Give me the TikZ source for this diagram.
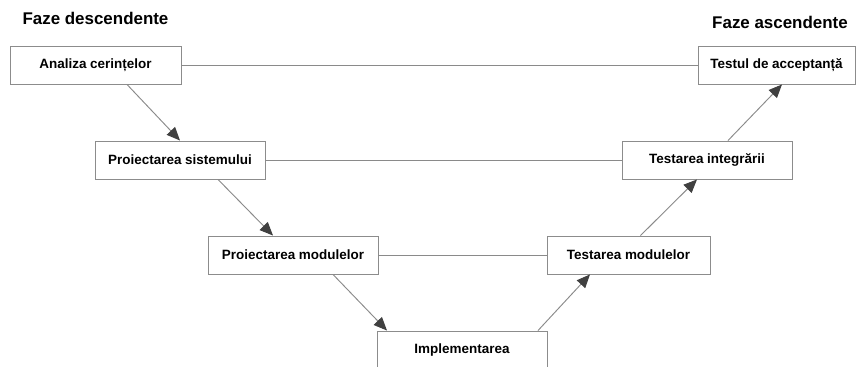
\documentclass[tikz,border=0pt]{standalone}
\usepackage{fontspec}
\setmainfont{Liberation Sans}
\usetikzlibrary{arrows.meta,calc}
\definecolor{linegray}{HTML}{8A8A8A}
\definecolor{boxgray}{HTML}{8C8C8C}
\definecolor{tipgray}{HTML}{404040}
\tikzset{
  phase/.style={draw=boxgray, line width=0.7pt, fill=white, minimum height=28.5pt,
    inner sep=0pt, font=\fontsize{10.1}{12}\selectfont\bfseries},
  title/.style={anchor=base, font=\fontsize{12.7}{15}\selectfont\bfseries},
  flow/.style={draw=linegray, line width=0.7pt,
    -{Triangle[length=10pt,width=8.5pt,fill=tipgray,color=tipgray]}},
  link/.style={draw=linegray, line width=0.6pt}
}
\begin{document}
\begin{tikzpicture}[x=0.75pt,y=-0.75pt]
\clip (0,0) rectangle (858,367);
\fill[white] (0,0) rectangle (858,367);

% titles
\node[title] (tdown) at (95.5,25) {Faze descendente};
\node[title] (tup) at (780,29) {Faze ascendente};

% descending branch
\node[phase, minimum width=128.25pt] (req) at (95.5,65) {Analiza cerințelor};
\node[phase, minimum width=127.5pt] (sys) at (180,160) {Proiectarea sistemului};
\node[phase, minimum width=127.5pt] (mod) at (293,255) {Proiectarea modulelor};
\node[phase, minimum width=127.5pt] (impl) at (462,350) {Implementarea};

% ascending branch
\node[phase, minimum width=122.25pt] (tmod) at (628.5,255) {Testarea modulelor};
\node[phase, minimum width=127.5pt] (tint) at (707,160) {Testarea integrării};
\node[phase, minimum width=117.75pt] (tacc) at (776.5,65) {Testul de acceptanță};

% horizontal correspondences
\draw[link] (req.east) -- (tacc.west);
\draw[link] (sys.east) -- (tint.west);
\draw[link] (mod.east) -- (tmod.west);

% flow arrows
\draw[flow] ($(req.south)+(31.5,0)$) -- (sys.north);
\draw[flow] ($(sys.south)+(38,0)$) -- ($(mod.north)+(-20,0)$);
\draw[flow] ($(mod.south)+(40,0)$) -- ($(impl.north)+(-75,0)$);
\draw[flow] ($(impl.north)+(76,0)$) -- ($(tmod.south)+(-38.5,0)$);
\draw[flow] ($(tmod.north)+(12,0)$) -- ($(tint.south)+(-10,0)$);
\draw[flow] ($(tint.north)+(21,0)$) -- ($(tacc.south)+(5.5,0)$);
\end{tikzpicture}
\end{document}
